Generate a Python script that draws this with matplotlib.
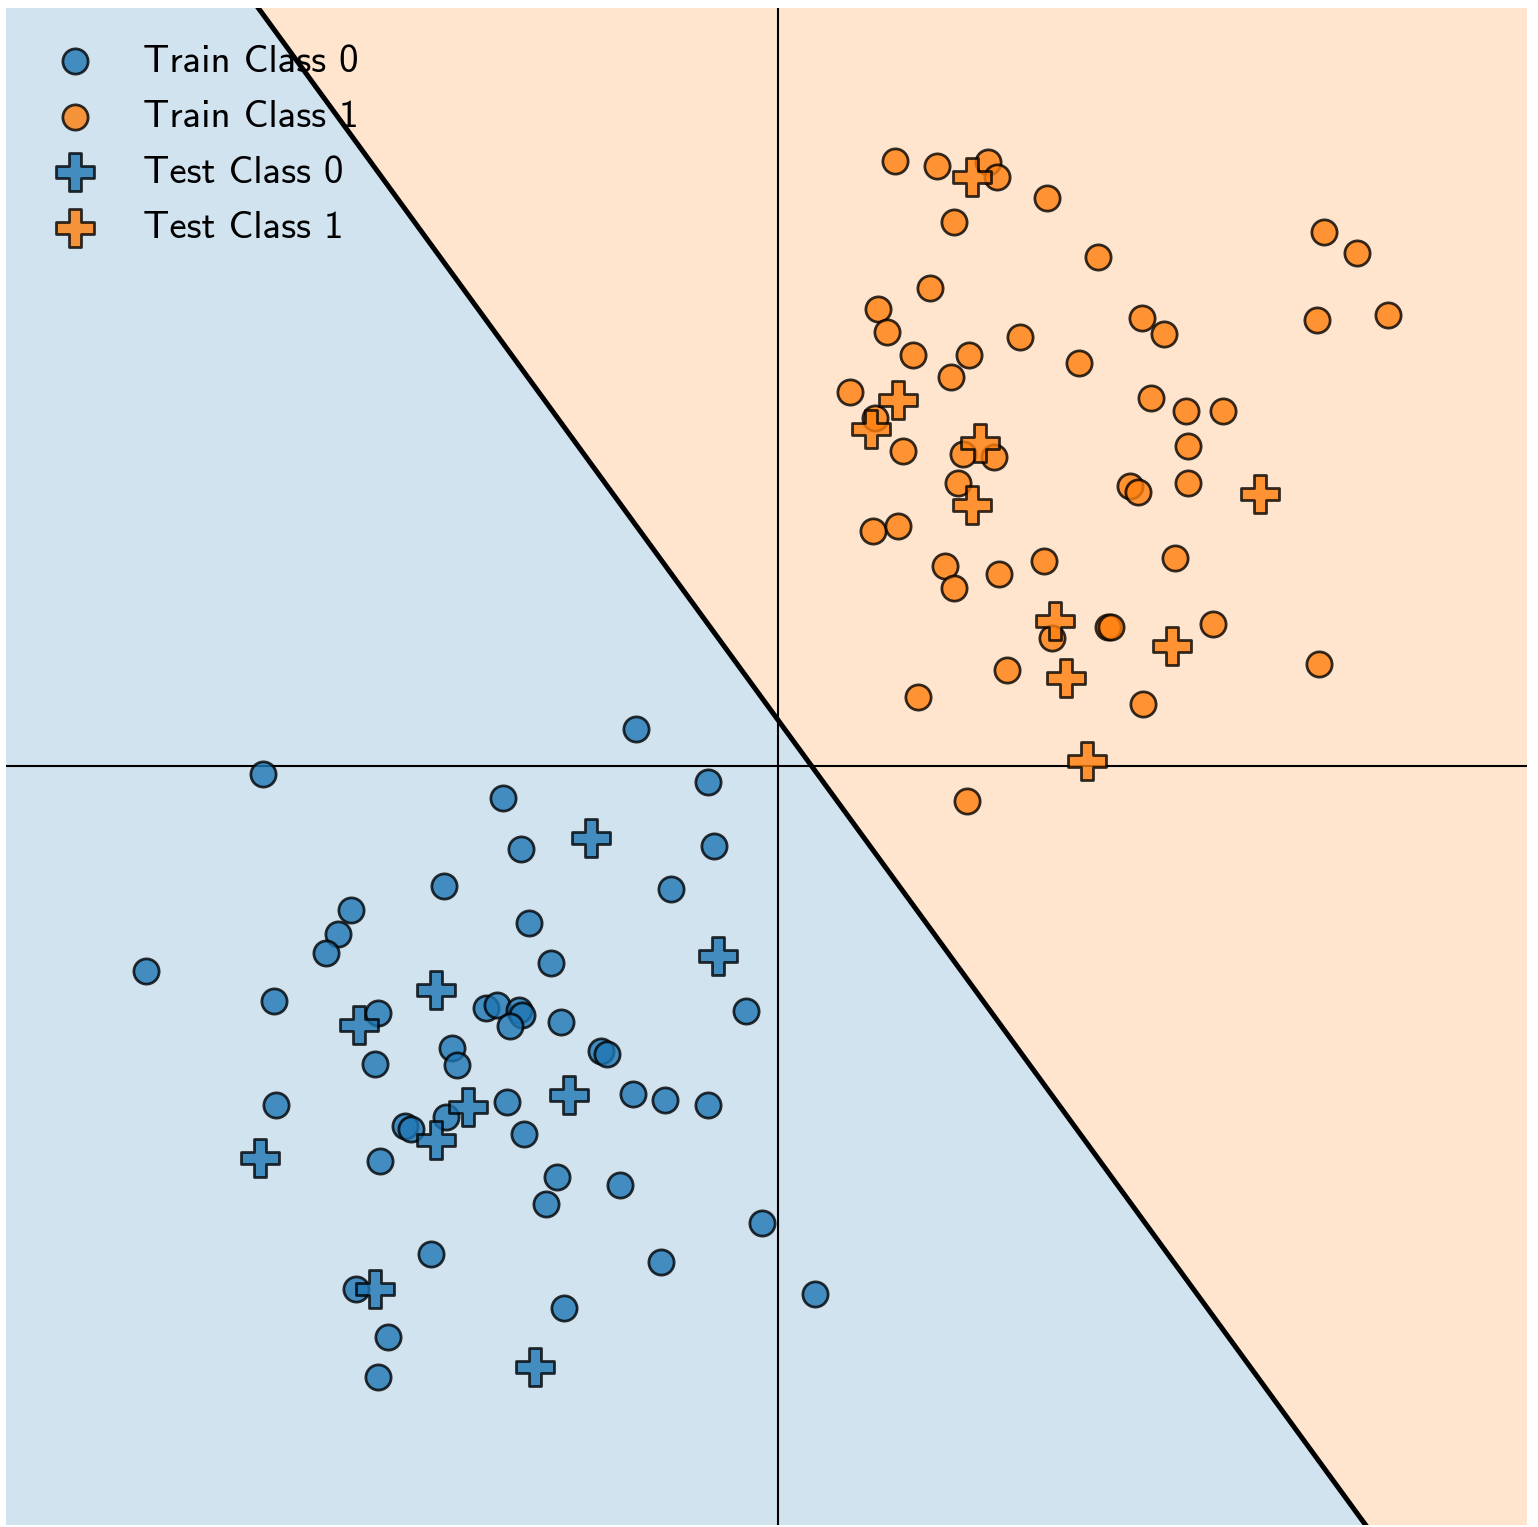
import numpy as np
import matplotlib
matplotlib.use("Agg")
import matplotlib.pyplot as plt

# Training samples, class 0
train0_x = [-1.42, -5.15, -2.75, -0.70, -2.57, -0.64, -3.34, -1.07, -4.27, -4.40,
            -4.52, -2.49, -2.27, -6.32, -5.04, -4.00, -2.92, -2.81, -2.59, -2.56,
            -2.68, -2.17, -0.32, -3.26, -3.21, -4.03, -1.77, -1.71, -5.02, -2.71,
            -1.45, -1.13, -0.70, -3.73, -3.67, -3.32, -2.54, -3.98, -2.21, -1.58,
            -2.32, -0.16, -3.47, -1.17, -4.22, 0.37, -2.14, -3.90, -4.00]
train0_y = [0.37, -0.08, -0.32, -0.16, -0.83, -0.80, -1.20, -1.23, -1.44, -1.68,
            -1.87, -1.57, -1.97, -2.05, -2.35, -2.47, -2.42, -2.39, -2.44, -2.49,
            -2.60, -2.56, -2.45, -2.82, -2.99, -2.98, -2.85, -2.88, -3.39, -3.36,
            -3.28, -3.34, -3.39, -3.60, -3.63, -3.51, -3.68, -3.95, -4.11, -4.19,
            -4.38, -4.57, -4.88, -4.96, -5.23, -5.28, -5.42, -5.71, -6.11]

# Training samples, class 1
train1_x = [1.17, 1.59, 2.10, 2.19, 2.69, 1.76, 3.20, 5.46, 5.79, 1.52,
            1.00, 1.09, 3.64, 3.86, 5.39, 6.10, 2.42, 1.35, 1.91, 3.01,
            1.73, 0.72, 3.73, 4.08, 4.45, 0.97, 4.10, 1.25, 1.85, 2.16,
            1.80, 3.52, 3.60, 4.10, 0.95, 1.20, 1.67, 1.76, 2.21, 2.66,
            3.97, 2.74, 3.30, 3.33, 4.35, 2.29, 1.40, 3.65, 5.41, 1.89]
train1_y = [6.05, 6.00, 6.04, 5.89, 5.68, 5.44, 5.09, 5.34, 5.13, 4.78,
            4.57, 4.34, 4.48, 4.32, 4.46, 4.51, 4.29, 4.11, 4.11, 4.03,
            3.89, 3.74, 3.68, 3.55, 3.55, 3.48, 3.20, 3.15, 3.12, 3.09,
            2.83, 2.80, 2.74, 2.83, 2.35, 2.40, 2.00, 1.78, 1.92, 2.05,
            2.08, 1.28, 1.39, 1.39, 1.42, 0.96, 0.69, 0.62, 1.02, -0.35]

# Test samples
test0_x = [-1.87, -0.60, -3.42, -4.19, -2.09, -3.10, -3.42, -5.18, -4.03, -2.43]
test0_y = [-0.72, -1.90, -2.24, -2.59, -3.29, -3.41, -3.74, -3.92, -5.23, -6.01]
test1_x = [1.94, 1.20, 0.93, 2.02, 1.94, 4.82, 2.77, 3.94, 2.88, 3.09]
test1_y = [5.89, 3.66, 3.37, 3.23, 2.61, 2.72, 1.45, 1.20, 0.88, 0.05]

labels = ["Train Class 0", "Train Class 1", "Test Class 0", "Test Class 1"]

# Linear classifier: w . x + b = 0
w = [1.37, 1.0]
b = -0.46

xlim = (-7.72, 7.49)
ylim = (-7.59, 7.58)

fig = plt.figure(figsize=(15.38, 15.27), dpi=100)
ax = fig.add_axes([6 / 1538, 1 - 1525 / 1527, 1521 / 1538, 1517 / 1527])

# decision regions
gx, gy = np.meshgrid(np.linspace(*xlim, 600), np.linspace(*ylim, 600))
score = w[0] * gx + w[1] * gy + b
ax.contourf(gx, gy, score, levels=[-1e9, 0, 1e9],
            colors=["tab:blue", "tab:orange"], alpha=0.2)

# decision boundary
lx = np.array(xlim)
ax.plot(lx, -(w[0] * lx + b) / w[1], color="black", lw=3.6, zorder=2)

ax.axhline(0, color="black", lw=1.5, zorder=1)
ax.axvline(0, color="black", lw=1.5, zorder=1)

kw = dict(edgecolors="black", linewidths=2.0, alpha=0.8, zorder=3)
ax.scatter(train0_x, train0_y, s=330, marker="o", color="tab:blue",
           label=labels[0], **kw)
ax.scatter(train1_x, train1_y, s=330, marker="o", color="tab:orange",
           label=labels[1], **kw)
ax.scatter(test0_x, test0_y, s=720, marker="P", color="tab:blue",
           label=labels[2], **kw)
ax.scatter(test1_x, test1_y, s=720, marker="P", color="tab:orange",
           label=labels[3], **kw)

ax.set_xlim(*xlim)
ax.set_ylim(*ylim)
ax.set_xticks([])
ax.set_yticks([])
for sp in ax.spines.values():
    sp.set_visible(False)

ax.legend(loc="upper left", bbox_to_anchor=(0.02, 0.976), frameon=False,
          prop={"family": "cmss10", "size": 28}, borderpad=0,
          borderaxespad=0, labelspacing=0.52, handletextpad=0.75)

fig.savefig("out.png", dpi=100)
